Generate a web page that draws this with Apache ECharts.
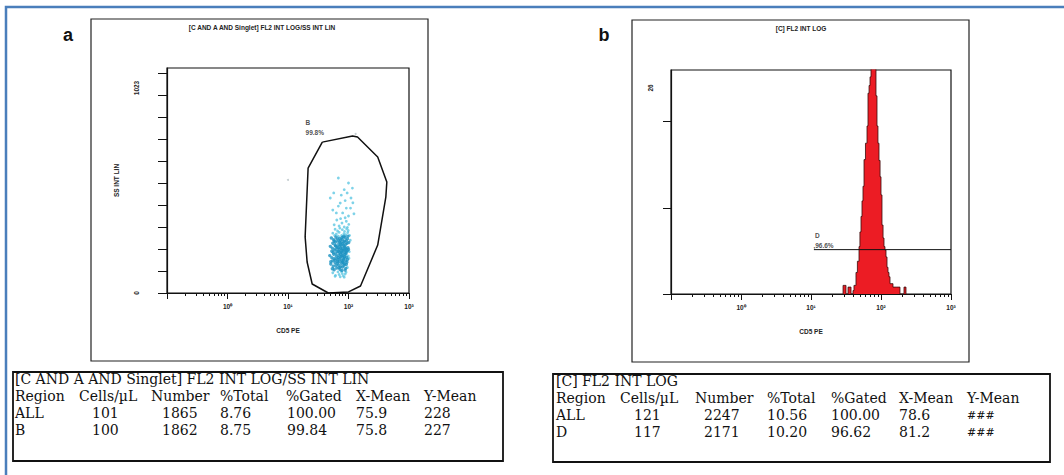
<!DOCTYPE html>
<html><head><meta charset="utf-8">
<script src="https://cdn.jsdelivr.net/npm/echarts@6/dist/echarts.min.js"></script>
<style>html,body{margin:0;padding:0;background:#fff;}#c{width:1064px;height:475px;}</style>
</head><body><div id="c"></div>
<script>
// ---------- data ----------
const xDecadeValues = [1, 10, 100, 1000];
const xDecadeLabels = ['10\u2070', '10\u00b9', '10\u00b2', '10\u00b3'];
const xMinorTicks = [0.2,0.3,0.4,0.5,0.6,0.7,0.8,0.9,2,3,4,5,6,7,8,9,20,30,40,50,60,70,80,90,200,300,400,500,600,700,800,900];
const ssTicks = [0,100,200,300,400,500,600,700,800,900,1000];
const ssLabels = [0, 1023];
const countTicks = [0, 10, 20];
const countLabels = [26];

// panel a: gate B polygon (CD5 PE, SS INT LIN)
const gateB = [[36.9,686],[116.6,714],[141,709],[304,618],[430,505],[414,436],[304,218],[158,32],[100,5],[46.4,0],[25.1,41],[20.7,141],[19.2,255],[21.5,568],[36.9,686]];
// panel a: events (dense core, lighter periphery, outliers)
const cellsCore = [
 [52,250],[57,242],[62,255],[67,236],[71,248],[75,228],[79,244],[83,232],[88,252],[92,238],[96,246],[101,230],[55,226],[61,232],[69,222],[74,240],[80,224],[86,236],[94,226],[65,246],[78,252],[90,222],[58,236],[72,232],[84,258],[98,258],
 [50,212],[54,204],[58,196],[61,214],[64,188],[67,206],[70,198],[73,214],[76,186],[79,202],[82,194],[85,210],[88,184],[91,200],[95,192],[98,206],[56,184],[62,200],[68,190],[74,204],[80,182],[86,196],[92,186],[60,218],[71,184],[83,216],[77,194],[65,210],[89,206],[100,198],[53,190],[75,218],
 [49,170],[53,160],[57,176],[60,150],[63,166],[66,144],[69,172],[72,156],[75,164],[78,148],[81,170],[84,158],[87,174],[90,146],[93,162],[96,152],[55,146],[62,178],[68,160],[74,176],[80,142],[86,164],[91,178],[58,156],[71,144],[83,152],[77,168],[65,154],[94,140],[51,142],
 [51,132],[56,122],[60,138],[64,114],[68,128],[72,108],[76,134],[80,118],[84,126],[88,104],[92,130],[58,106],[66,136],[74,120],[82,138],[90,112],[62,126],[78,102],[86,132],[70,116],[54,110]
];
const cellsLight = [
 [64,332],[78,318],[92,326],[70,305],[85,300],[101,312],[58,310],[96,298],[74,338],[88,342],[60,290],[66,282],[72,295],[79,288],[86,280],[93,292],[99,284],[55,272],[63,268],[70,276],[77,262],[84,270],[90,265],[97,275],[104,262],[68,258],[81,256],[59,262],[107,240],[103,188],[99,168],[102,158],[96,116],
 [55,92],[61,80],[67,96],[73,74],[79,88],[85,72],[91,94],[76,98],[70,84],[82,78],[60,76],[88,86],
 [68,523],[100,500],[116,477],[85,470],[110,432],[57,455],[50,432],[73,409],[92,386],[108,386],[68,395],[80,364],[63,364],[100,350],[55,377],[118,410],[123,360],[88,420],[76,445],[95,455]
];
const cellsOut = [[10,514],[131,723]];

// panel b: histogram (bin start on CD5 PE, count)
const histX = [28.7,28.7,31.6,33.8,37.3,39.8,41.1,43.9,46.0,48.5,50.0,51.8,53.5,55.3,57.2,60.0,63.1,65.2,67.5,69.7,72.0,74.5,77.0,80.0,84.8,87.7,90.5,93.6,97.0,100,103.3,107,110.4,114,117.9,121.9,125.9,130,134.5,148.3,165,186.7,213,227.6];
const histCount = [0,1.0,0,0.8,0,0.4,1.0,2.5,3.8,5.5,7.2,9.0,10.8,12.5,15.6,17.5,19.5,23.3,24.2,25.2,28,30,29,26.5,23,19.5,17.5,15.5,13.6,11.5,8.0,6.5,5.5,5.1,4.3,3.1,2.5,2.0,1.2,0.8,0.8,0,0.8,0];
const gateD = [[11,5.15],[1000,5.15]];

// tables
const tableHeader = ['Region','Cells/\u00b5L','Number','%Total','%Gated','X-Mean','Y-Mean'];
const tableATitle = '[C AND A AND Singlet] FL2 INT LOG/SS INT LIN';
const tableARows = [['ALL','101','1865','8.76','100.00','75.9','228'],['B','100','1862','8.75','99.84','75.8','227']];
const tableBTitle = '[C] FL2 INT LOG';
const tableBRows = [['ALL','121','2247','10.56','100.00','78.6','###'],['D','117','2171','10.20','96.62','81.2','###']];

// ---------- chart ----------
const SANS = '"Liberation Sans", Arial, sans-serif';
const SERIF = '"DejaVu Serif", "Liberation Serif", serif';
const small = {fontFamily: SANS, fontSize: 6.5, fontWeight: 'bold', color: '#222'};
const fmtX = v => { const i = xDecadeValues.findIndex(d => Math.abs(d - v) < d * 1e-6); return i >= 0 ? xDecadeLabels[i] : ''; };
const minorLog = xMinorTicks.map(v => Math.log10(v));

function logAxis(gi, name) {
  return {type:'log', logBase:10, gridIndex:gi, min:0.1, max:1000,
    axisLine:{onZero:false, lineStyle:{color:'#111', width:1.2}},
    axisTick:{length:6, lineStyle:{color:'#111', width:1}},
    axisLabel:Object.assign({formatter:fmtX, margin:10}, small),
    splitLine:{show:false},
    name:name, nameLocation:'middle', nameGap:34, nameTextStyle:Object.assign({}, small)};
}
function minorAxis(gi) {
  return {type:'value', gridIndex:gi, min:-1, max:3, position:'bottom',
    axisLine:{show:false, onZero:false}, axisLabel:{show:false}, splitLine:{show:false},
    axisTick:{customValues:minorLog, length:3, lineStyle:{color:'#111', width:1}}};
}

function tableGraphics(x0, y0, w, h, title, rows, headX, valX, ys) {
  const els = [{type:'rect', shape:{x:x0, y:y0, width:w, height:h}, style:{fill:'none', stroke:'#111', lineWidth:1.8}}];
  const txt = (t, x, y, sz) => ({type:'text', x:x, y:y, style:{text:t, fontFamily:SERIF, fontSize:sz || 14, lineHeight:14, fill:'#111', align:'left', verticalAlign:'middle'}});
  els.push(txt(title, headX[0], ys[0]));
  tableHeader.forEach((t, i) => els.push(txt(t, headX[i], ys[1])));
  rows.forEach((r, ri) => r.forEach((t, i) => els.push(txt(t, valX[i], ys[2 + ri], t === '###' ? 11 : 14))));
  return els;
}

const chart = echarts.init(document.getElementById('c'), null, {renderer:'svg', width:1064, height:475});
const option = {
  animation:false,
  backgroundColor:'#fff',
  grid:[
    {left:167, top:68, width:242, height:225, show:true, borderColor:'#111', borderWidth:1.2},
    {left:671, top:70, width:280, height:224, show:true, borderColor:'#111', borderWidth:1.2}
  ],
  xAxis:[logAxis(0, 'CD5 PE'), minorAxis(0), logAxis(1, 'CD5 PE'), minorAxis(1)],
  yAxis:[
    {type:'value', gridIndex:0, min:0, max:1023,
     axisLine:{show:true, onZero:false, lineStyle:{color:'#111', width:1.2}},
     axisTick:{show:true, customValues:ssTicks, length:9, lineStyle:{color:'#111', width:1}},
     axisLabel:Object.assign({customValues:ssLabels, rotate:90, margin:27,
       formatter: v => v === 1023 ? '{t|1023}' : '{z|' + v + '}',
       rich:{t:{padding:[0,40,0,0], fontFamily:SANS, fontSize:6.5, fontWeight:'bold', color:'#222'},
             z:{fontFamily:SANS, fontSize:6.5, fontWeight:'bold', color:'#222'}}}, small),
     splitLine:{show:false},
     name:'SS INT LIN', nameLocation:'middle', nameRotate:90, nameGap:47, nameTextStyle:Object.assign({}, small)},
    {type:'value', gridIndex:1, min:0, max:26,
     axisLine:{show:true, onZero:false, lineStyle:{color:'#111', width:1.2}},
     axisTick:{show:true, customValues:countTicks, length:8, lineStyle:{color:'#111', width:1}},
     axisLabel:Object.assign({customValues:countLabels, rotate:90, margin:17,
       formatter: v => '{t|' + v + '}',
       rich:{t:{padding:[0,36,0,0], fontFamily:SANS, fontSize:6.5, fontWeight:'bold', color:'#222'}}}, small),
     splitLine:{show:false}}
  ],
  series:[
    {type:'scatter', xAxisIndex:0, yAxisIndex:0, data:cellsLight, symbolSize:2.8, itemStyle:{color:'#5ec7e2'}, z:2},
    {type:'scatter', xAxisIndex:0, yAxisIndex:0, data:cellsCore, symbolSize:3.4, itemStyle:{color:'#1b92c2'}, z:3},
    {type:'scatter', xAxisIndex:0, yAxisIndex:0, data:cellsOut, symbolSize:2, itemStyle:{color:'#b5c0c4'}, z:2},
    {type:'line', xAxisIndex:0, yAxisIndex:0, data:gateB, symbol:'none', clip:false, lineStyle:{color:'#111', width:1.5}, z:4},
    {type:'scatter', xAxisIndex:0, yAxisIndex:0, symbolSize:1, itemStyle:{color:'rgba(0,0,0,0)'}, z:5,
     data:[{name:'B', value:[19.9,773]}, {name:'99.8%', value:[19.9,728]}],
     label:Object.assign({show:true, position:[0,0], align:'left', verticalAlign:'middle', formatter:'{b}'}, small)},
    {type:'line', xAxisIndex:2, yAxisIndex:1, data:histX.map((x, i) => [x, histCount[i]]), step:'end', symbol:'none',
     lineStyle:{color:'#3a0c0c', width:0.8}, areaStyle:{color:'#ec1c24', opacity:1}, z:3},
    {type:'line', xAxisIndex:2, yAxisIndex:1, data:gateD, symbol:'none', lineStyle:{color:'#111', width:1}, z:4},
    {type:'scatter', xAxisIndex:2, yAxisIndex:1, symbolSize:1, itemStyle:{color:'rgba(0,0,0,0)'}, z:5,
     data:[{name:'D', value:[11.6,6.7]}, {name:',96.6%', value:[11,5.55]}],
     label:Object.assign({show:true, position:[0,0], align:'left', verticalAlign:'middle', formatter:'{b}'}, small)}
  ],
  graphic:[
    {type:'rect', shape:{x:6, y:7, width:1100, height:500}, style:{fill:'none', stroke:'#4a7ebb', lineWidth:2.5}},
    {type:'rect', shape:{x:91, y:19, width:337, height:342}, style:{fill:'none', stroke:'#222', lineWidth:1.2}},
    {type:'rect', shape:{x:632, y:20, width:337, height:342}, style:{fill:'none', stroke:'#222', lineWidth:1.2}},
    {type:'text', x:262, y:27, style:{text:'[C AND A AND Singlet] FL2 INT LOG/SS INT LIN', fontFamily:SANS, fontSize:6.5, fontWeight:'bold', fill:'#222', align:'center', verticalAlign:'middle'}},
    {type:'text', x:801, y:28, style:{text:'[C] FL2 INT LOG', fontFamily:SANS, fontSize:6.5, fontWeight:'bold', fill:'#222', align:'center', verticalAlign:'middle'}},
    {type:'text', x:68, y:35, style:{text:'a', fontFamily:SANS, fontSize:18, fontWeight:'bold', fill:'#111', align:'center', verticalAlign:'middle'}},
    {type:'text', x:604, y:35, style:{text:'b', fontFamily:SANS, fontSize:18, fontWeight:'bold', fill:'#111', align:'center', verticalAlign:'middle'}}
  ].concat(
    tableGraphics(13, 372, 490, 89, tableATitle, tableARows, [15,79,151,220,286,356,424], [15,92,162,220,287,356,424], [379,396,413,430]),
    tableGraphics(553, 374, 497, 88, tableBTitle, tableBRows, [556,620,695,767,831,899,967], [556,634,704,767,831,899,967], [381,398,415,432])
  )
};
chart.setOption(option);
</script></body></html>
